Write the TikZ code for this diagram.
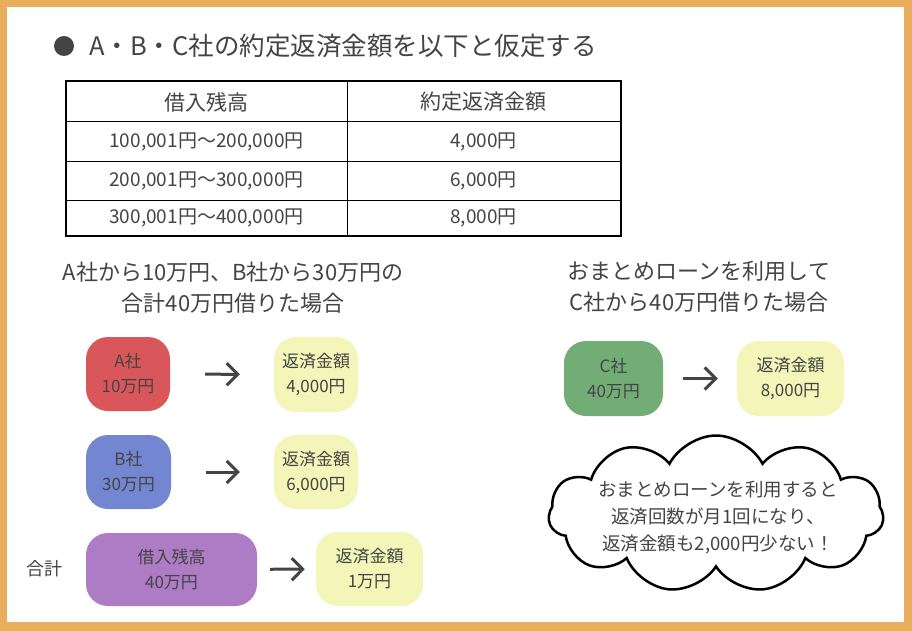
\documentclass[tikz,border=0pt]{standalone}
\usepackage{fontspec}
\setmainfont{Noto Sans CJK JP}
\usetikzlibrary{arrows.meta,shapes.symbols}
\definecolor{framec}{HTML}{E9AE5C}
\definecolor{txt}{HTML}{444444}
\definecolor{boxred}{HTML}{D9575A}
\definecolor{boxblue}{HTML}{7386D1}
\definecolor{boxpurple}{HTML}{AD7CC4}
\definecolor{boxgreen}{HTML}{72AD76}
\definecolor{boxyellow}{HTML}{F3F5B9}
\tikzset{
  cell/.style={draw=black, line width=1pt, inner sep=0pt, text=txt},
  hcell/.style={cell, font=\fontsize{21}{24}\selectfont},
  ncell/.style={cell, font=\fontsize{19}{22}\selectfont},
  heading/.style={align=center, text=txt, font=\fontsize{22}{31}\selectfont},
  rbox/.style={rounded corners=22pt, inner sep=0pt, align=center, text=txt,
    font=\fontsize{17}{25}\selectfont},
  goarrow/.style={draw=txt, line width=3pt, -{Straight Barb[length=11pt,width=22pt,line width=3pt]}},
}
\begin{document}
\begin{tikzpicture}[x=1pt,y=-1pt]
\useasboundingbox (0,0) rectangle (912,631);
\fill[framec] (0,0) rectangle (912,631);
\fill[white] (7,7) rectangle (904,622);

% title
\node[circle, fill=txt, minimum size=20pt, inner sep=0pt] (bul) at (64,46) {};
\node[anchor=west, text=txt, font=\fontsize{25.5}{28}\selectfont, inner sep=0pt] (title) at (89,46) {A・B・C社の約定返済金額を以下と仮定する};

% table
\node[hcell, minimum width=281pt, minimum height=40pt] (h1) at (206.5,102) {借入残高};
\node[hcell, minimum width=273pt, minimum height=40pt] (h2) at (483.5,102) {約定返済金額};
\node[ncell, minimum width=281pt, minimum height=40pt] (r1a) at (206.5,142) {100,001円～200,000円};
\node[ncell, minimum width=273pt, minimum height=40pt] (r1b) at (483.5,142) {4,000円};
\node[ncell, minimum width=281pt, minimum height=38pt] (r2a) at (206.5,181) {200,001円～300,000円};
\node[ncell, minimum width=273pt, minimum height=38pt] (r2b) at (483.5,181) {6,000円};
\node[ncell, minimum width=281pt, minimum height=35pt] (r3a) at (206.5,217.5) {300,001円～400,000円};
\node[ncell, minimum width=273pt, minimum height=35pt] (r3b) at (483.5,217.5) {8,000円};
\draw[line width=2pt] (h1.north west) rectangle (r3b.south east);

% headings
\node[heading] (lh) at (233,288) {A社から10万円、B社から30万円の\\合計40万円借りた場合};
\node[heading] (rh) at (699,287) {おまとめローンを利用して\\C社から40万円借りた場合};

% left boxes
\node[rbox, fill=boxred, minimum width=84pt, minimum height=74pt] (a) at (128,374) {A社\\10万円};
\node[rbox, fill=boxyellow, minimum width=84pt, minimum height=75pt] (ya) at (316,374.5) {返済金額\\4,000円};
\node[rbox, fill=boxblue, minimum width=85pt, minimum height=74pt] (b) at (128.5,472) {B社\\30万円};
\node[rbox, fill=boxyellow, minimum width=84pt, minimum height=74pt] (yb) at (316,472) {返済金額\\6,000円};
\node[rbox, fill=boxpurple, minimum width=171pt, minimum height=73pt] (p) at (171.5,569.5) {借入残高\\40万円};
\node[rbox, fill=boxyellow, minimum width=107pt, minimum height=74pt] (yp) at (369.5,569) {返済金額\\1万円};
\node[text=txt, font=\fontsize{18}{20}\selectfont] (sum) at (44,569) {合計};

% right boxes
\node[rbox, fill=boxgreen, minimum width=99pt, minimum height=75pt] (c) at (613.5,378.5) {C社\\40万円};
\node[rbox, fill=boxyellow, minimum width=107pt, minimum height=75pt] (yc) at (790.5,378.5) {返済金額\\8,000円};

% arrows
\draw[goarrow, shorten <=35pt, shorten >=34pt] (a) -- (ya);
\draw[goarrow, shorten <=35pt, shorten >=34pt] (b) -- (yb);
\draw[goarrow, shorten <=13pt, shorten >=11pt] (p) -- (yp);
\draw[goarrow, shorten <=20pt, shorten >=19pt] (c) -- (yc);

% cloud
\node[cloud, cloud ignores aspect, draw=black, line width=2.5pt, cloud puffs=11, cloud puff arc=125,
  minimum width=335pt, minimum height=157pt, inner sep=0pt] (cl) at (716,514) {};
\node[align=center, text=txt, inner sep=0pt,
  font=\fontsize{18.5}{27}\selectfont] (cltext) at (718,518) {おまとめローンを利用すると\\返済回数が月1回になり、\\返済金額も2,000円少ない！};
\end{tikzpicture}
\end{document}
